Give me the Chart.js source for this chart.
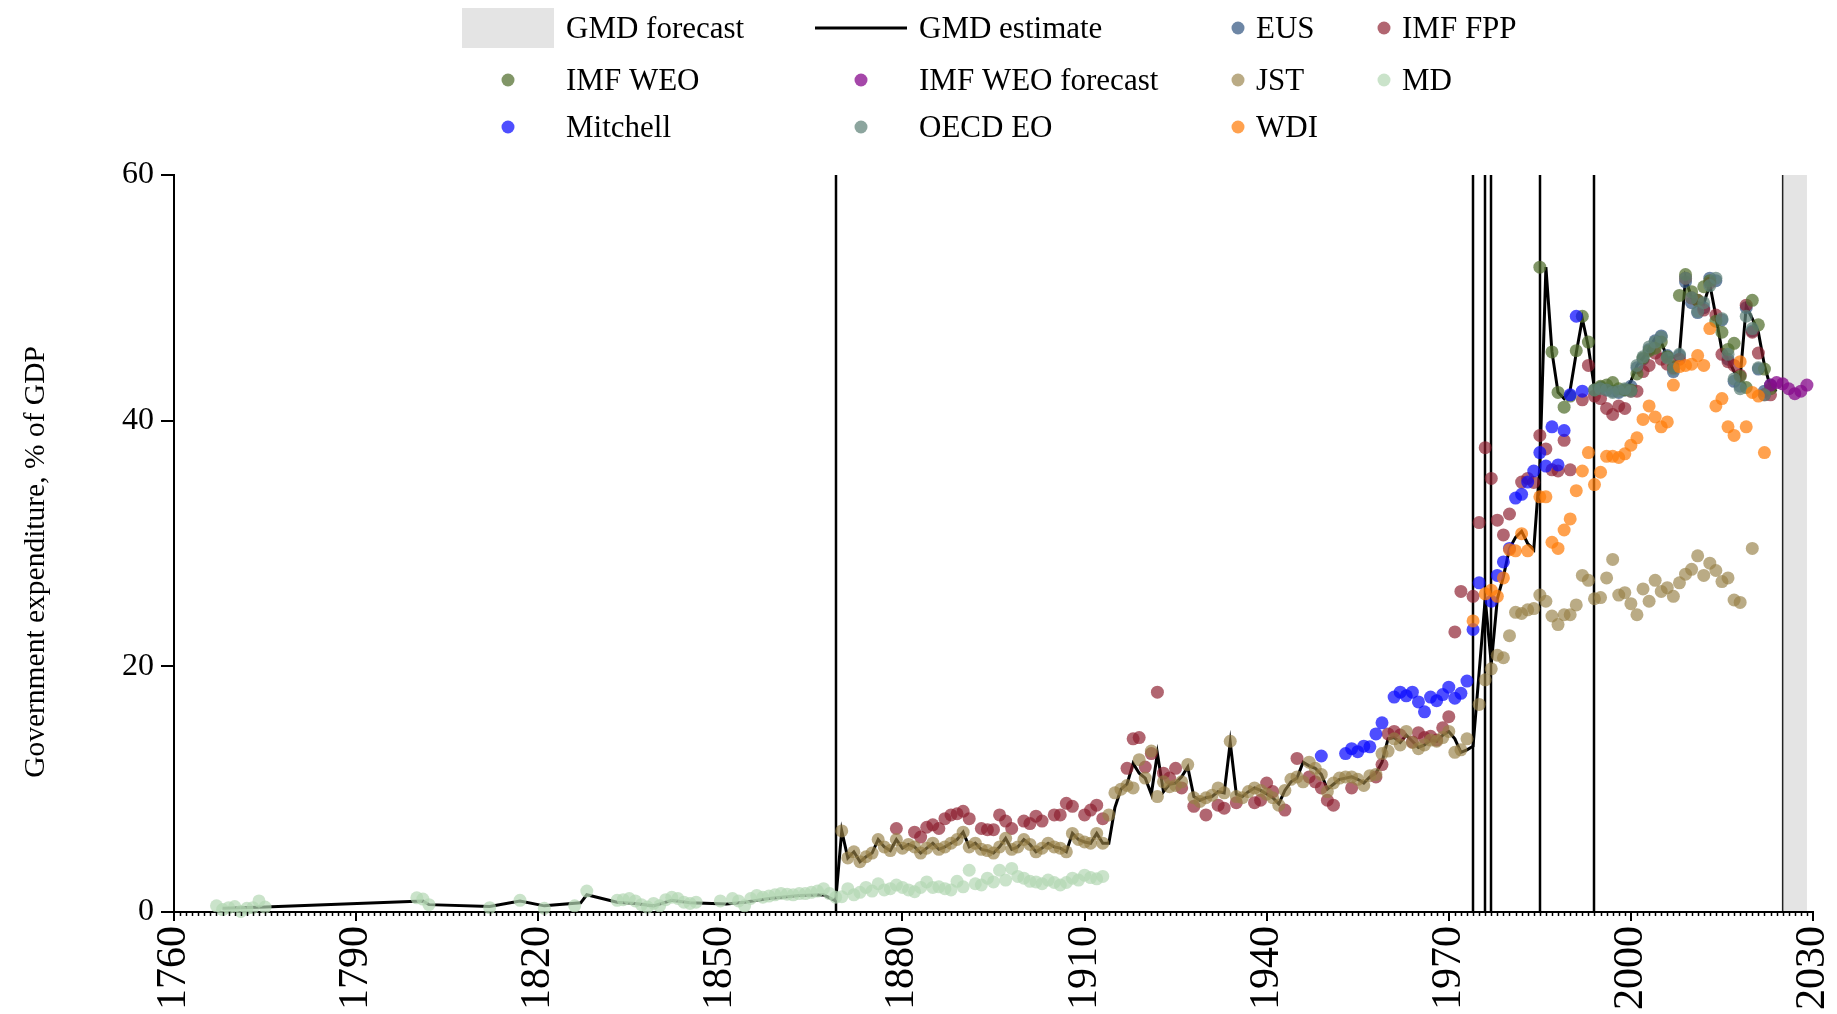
<!DOCTYPE html>
<html>
<head>
<meta charset="utf-8">
<title>Government expenditure, % of GDP</title>
<script src="https://cdn.jsdelivr.net/npm/chart.js@4.4.1/dist/chart.umd.min.js"></script>
<style>
    html, body { margin: 0; padding: 0; background: #fff; }
    #wrap { position: relative; width: 1837px; height: 1014px; }
</style>
</head>
<body>
<div id="wrap"><canvas id="chart" width="1837" height="1014"></canvas></div>
<script>
// 1. DATA (year, % of GDP)
const gmdEstimate = [
    [1768,0.3],[1775,0.4],[1801,0.9],[1802,0.6],[1812,0.45],[1817,0.9],[1821,0.5],[1827,0.75],[1828,1.4],
    [1833,0.8],[1836,0.7],[1839,0.5],[1842,0.95],[1845,0.75],[1851,0.65],[1854,0.8],[1858,1.1],[1863,1.35],
    [1867,1.4],[1869,0.9],
    [1870,6.6],[1871,4.4],[1872,4.9],[1873,4.1],[1874,4.5],[1875,4.8],[1876,5.9],[1877,5.3],[1878,5.0],[1879,5.9],
    [1880,5.2],[1881,5.5],[1882,5.3],[1883,4.8],[1884,5.2],[1885,5.6],[1886,5.1],[1887,5.3],[1888,5.6],[1889,5.9],
    [1890,6.5],[1891,5.3],[1892,5.6],[1893,5.1],[1894,5.0],[1895,4.8],[1896,5.3],[1897,6.0],[1898,5.1],[1899,5.3],
    [1900,5.9],[1901,5.5],[1902,4.9],[1903,5.2],[1904,5.6],[1905,5.3],[1906,5.2],[1907,4.9],[1908,6.4],[1909,5.9],
    [1910,5.7],[1911,5.6],[1912,6.4],[1913,5.6],[1914,5.6],[1915,8.5],[1916,10.0],[1917,10.4],[1918,12.1],[1919,11.3],
    [1920,10.9],[1921,9.6],[1922,12.9],[1923,9.8],[1924,10.4],[1925,10.5],[1926,11.0],[1927,11.8],[1928,9.4],[1929,9.1],
    [1930,9.3],[1931,9.4],[1932,9.8],[1933,9.7],[1934,13.8],[1935,9.6],[1936,9.4],[1937,9.8],[1938,10.1],[1939,9.9],
    [1940,9.6],[1941,9.3],[1942,8.8],[1943,9.9],[1944,10.6],[1945,10.9],[1946,12.2],[1947,11.9],[1948,11.7],[1949,11.2],
    [1950,10.0],[1951,10.4],[1952,10.8],[1953,10.9],[1954,11.0],[1955,10.8],[1956,10.5],[1957,11.0],[1958,11.3],[1959,12.2],
    [1960,14.1],[1961,14.2],[1962,13.8],[1963,14.4],[1964,13.9],[1965,13.4],[1966,13.6],[1967,14.0],[1968,13.9],[1969,14.4],
    [1970,14.7],[1971,14.1],[1972,13.0],[1973,13.2],[1974,13.5],[1975,19.5],[1976,25.5],[1977,20.2],[1978,25.5],[1979,27.3],
    [1980,29.6],[1981,30.5],[1982,31.0],[1983,30.0],[1984,29.5],[1985,36.3],[1986,52.5],[1987,45.6],[1988,42.3],[1989,41.8],
    [1990,42.5],[1991,45.5],[1992,48.3],[1993,46.0],[1994,42.6],[1995,42.6],[1996,42.7],[1997,42.6],[1998,42.5],[1999,42.5],
    [2000,43.2],[2001,44.5],[2002,45.1],[2003,45.9],[2004,46.7],[2005,46.4],[2006,45.1],[2007,45.2],[2008,45.4],[2009,51.6],
    [2010,50.0],[2011,49.6],[2012,49.5],[2013,51.1],[2014,48.5],[2015,45.7],[2016,45.0],[2017,44.0],[2018,43.5],[2019,49.3],
    [2020,48.3],[2021,47.2],[2022,44.5],[2023,42.7],[2024,42.4]
];

const eusPoints = [
    [1995,42.7],[1996,42.5],[1997,42.4],[1998,42.3],[1999,42.5],[2000,42.8],[2001,44.3],[2002,45.0],[2003,45.8],[2004,46.5],
    [2005,46.9],[2006,45.3],[2007,44.0],[2008,45.3],[2009,51.3],[2010,49.6],[2011,48.8],[2012,49.2],[2013,51.6],[2014,51.4],
    [2015,48.2],[2016,45.0],[2017,43.2],[2018,42.8],[2019,49.2],[2020,47.3],[2021,44.2],[2022,42.4],[2023,42.9]
];

const imfFppPoints = [
    [1879,6.8],[1882,6.5],[1883,6.1],[1884,6.9],[1885,7.1],[1886,6.8],[1887,7.6],[1888,7.9],[1889,8.0],[1890,8.2],
    [1891,7.6],[1893,6.8],[1894,6.7],[1895,6.7],[1896,7.9],[1897,7.4],[1898,6.8],[1900,7.4],[1901,7.2],[1902,7.8],
    [1903,7.4],[1905,7.9],[1906,7.9],[1907,8.85],[1908,8.6],[1910,7.9],[1911,8.3],[1912,8.7],[1913,7.6],
    [1917,11.7],[1918,14.1],[1919,14.2],[1920,11.8],[1921,12.9],[1922,17.9],[1923,11.3],[1924,10.9],[1925,11.7],[1926,10.1],
    [1928,8.6],[1930,7.9],[1932,8.7],[1933,8.45],[1935,8.9],[1938,8.9],[1939,9.1],[1940,10.5],[1941,9.8],[1943,8.3],
    [1945,12.5],[1947,11.0],[1948,10.6],[1949,10.1],[1950,9.1],[1951,8.7],[1954,10.1],[1958,11.0],[1959,12.0],[1960,14.5],
    [1961,14.7],[1962,14.4],[1964,13.85],[1965,14.6],[1966,14.2],[1967,14.3],[1968,14.0],[1969,15.0],[1970,15.9],[1971,22.8],
    [1972,26.1],[1974,25.7],[1975,31.7],[1976,37.8],[1977,35.3],[1978,31.9],[1979,30.7],[1980,32.4],[1982,35.0],[1983,35.3],
    [1984,34.97],[1985,38.8],[1986,37.7],[1987,36.0],[1988,35.9],[1989,38.4],[1990,36.0],[1992,41.7],[1993,44.5],[1994,42.0],
    [1995,41.8],[1996,41.0],[1997,40.5],[1998,41.2],[1999,41.0],[2000,42.4],[2001,42.4],[2002,44.0],[2003,44.5],[2004,45.5],
    [2005,45.0],[2006,44.6],[2007,44.3],[2008,45.0],[2009,51.6],[2010,50.0],[2011,49.8],[2012,49.0],[2013,51.2],[2014,48.6],
    [2015,45.4],[2016,44.8],[2017,44.5],[2018,43.7],[2019,49.4],[2020,47.2],[2021,45.5],[2022,42.1],[2023,42.1]
];

const imfWeoPoints = [
    [1985,52.5],[1987,45.6],[1988,42.3],[1989,41.1],[1990,42.0],[1991,45.7],[1992,48.5],[1993,46.4],[1994,42.5],[1995,42.8],
    [1996,42.9],[1997,43.1],[1998,42.6],[1999,42.5],[2000,42.5],[2001,43.8],[2002,45.1],[2003,45.7],[2004,45.9],[2005,46.4],
    [2006,45.2],[2007,44.4],[2008,50.2],[2009,51.9],[2010,50.5],[2011,49.8],[2012,50.9],[2013,51.4],[2014,48.1],[2015,47.2],
    [2016,45.8],[2017,46.3],[2018,43.6],[2019,42.7],[2020,49.8],[2021,47.8],[2022,44.2],[2023,42.6]
];

const imfWeoForecastPoints = [
    [2023,42.9],[2024,43.1],[2025,43.0],[2026,42.6],[2027,42.2],[2028,42.4],[2029,42.9]
];

const jstPoints = [
    [1870,6.6],[1871,4.4],[1872,4.9],[1873,4.1],[1874,4.5],[1875,4.8],[1876,5.9],[1877,5.3],[1878,5.0],[1879,5.9],
    [1880,5.2],[1881,5.5],[1882,5.3],[1883,4.8],[1884,5.2],[1885,5.6],[1886,5.1],[1887,5.3],[1888,5.6],[1889,5.9],
    [1890,6.5],[1891,5.3],[1892,5.6],[1893,5.1],[1894,5.0],[1895,4.8],[1896,5.3],[1897,6.0],[1898,5.1],[1899,5.3],
    [1900,5.9],[1901,5.5],[1902,4.9],[1903,5.2],[1904,5.6],[1905,5.3],[1906,5.2],[1907,4.9],[1908,6.4],[1909,5.9],
    [1910,5.7],[1911,5.6],[1912,6.4],[1913,5.6],[1914,7.9],[1915,9.7],[1916,10.0],[1917,10.3],[1918,10.1],[1919,12.4],
    [1920,10.9],[1921,13.1],[1922,9.4],[1923,10.6],[1924,10.2],[1925,10.3],[1926,10.6],[1927,12.0],[1928,9.3],[1929,9.0],
    [1930,9.3],[1931,9.5],[1932,10.1],[1933,9.7],[1934,13.9],[1935,9.4],[1936,9.3],[1937,9.8],[1938,10.1],[1939,9.9],
    [1940,9.6],[1941,9.3],[1942,8.7],[1943,9.9],[1944,10.8],[1945,11.0],[1946,10.6],[1947,12.2],[1948,11.7],[1949,11.2],
    [1950,9.8],[1951,10.5],[1952,10.9],[1953,11.0],[1954,11.0],[1955,10.8],[1956,10.3],[1957,11.1],[1958,11.2],[1959,12.9],
    [1960,13.1],[1961,14.1],[1962,13.6],[1963,14.7],[1964,13.8],[1965,13.3],[1966,13.6],[1967,14.0],[1968,13.9],[1969,14.2],
    [1970,14.7],[1971,13.0],[1972,13.2],[1973,14.1],[1975,16.9],[1976,18.9],[1977,19.8],[1978,20.9],[1979,20.7],
    [1980,22.5],[1981,24.4],[1982,24.3],[1983,24.6],[1984,24.7],[1985,25.8],[1986,25.3],[1987,24.1],[1988,23.4],[1989,24.2],
    [1990,24.2],[1991,25.0],[1992,27.4],[1993,27.0],[1994,25.5],[1995,25.6],[1996,27.2],[1997,28.7],[1998,25.8],[1999,26.0],
    [2000,25.1],[2001,24.2],[2002,26.3],[2003,25.3],[2004,27.0],[2005,26.1],[2006,26.4],[2007,25.7],[2008,26.8],[2009,27.5],
    [2010,27.9],[2011,29.0],[2012,27.4],[2013,28.4],[2014,27.8],[2015,26.9],[2016,27.2],[2017,25.4],[2018,25.2],[2020,29.6]
];

const mdPoints = [
    [1767,0.5],[1768,0.2],[1769,0.35],[1770,0.45],[1771,0.05],[1772,0.3],[1773,0.35],[1774,0.9],[1775,0.4],
    [1800,1.15],[1801,1.05],[1802,0.6],[1812,0.35],[1817,0.95],[1821,0.3],[1826,0.5],[1828,1.7],
    [1833,0.95],[1834,1.0],[1835,1.1],[1836,0.9],[1837,0.6],[1838,0.4],[1839,0.7],[1840,0.5],[1841,1.0],[1842,1.2],
    [1843,1.1],[1844,0.8],[1845,0.7],[1846,0.8],[1850,0.9],[1852,1.1],[1853,0.9],[1854,0.5],[1855,1.1],[1856,1.35],
    [1857,1.2],[1858,1.3],[1859,1.4],[1860,1.5],[1861,1.45],[1862,1.4],[1863,1.5],[1864,1.5],[1865,1.6],[1866,1.7],
    [1867,1.9],[1868,1.5],[1869,1.2],
    [1870,1.25],[1871,1.9],[1872,1.4],[1873,1.6],[1874,2.0],[1875,1.7],[1876,2.3],[1877,1.8],[1878,1.9],[1879,2.2],
    [1880,2.0],[1881,1.8],[1882,1.65],[1883,2.0],[1884,2.45],[1885,2.0],[1886,2.05],[1887,1.9],[1888,1.8],[1889,2.5],
    [1890,2.05],[1891,3.4],[1892,2.3],[1893,2.2],[1894,2.75],[1895,2.45],[1896,3.4],[1897,2.6],[1898,3.55],[1899,2.9],
    [1900,2.75],[1901,2.5],[1902,2.45],[1903,2.3],[1904,2.6],[1905,2.4],[1906,2.2],[1907,2.4],[1908,2.75],[1909,2.6],
    [1910,3.0],[1911,2.8],[1912,2.7],[1913,2.9]
];

const mitchellPoints = [
    [1949,12.7],[1953,12.9],[1954,13.3],[1955,13.05],[1956,13.5],[1957,13.45],[1958,14.5],[1959,15.4],[1961,17.5],[1962,17.9],
    [1963,17.6],[1964,17.9],[1965,17.1],[1966,16.3],[1967,17.5],[1968,17.2],[1969,17.7],[1970,18.3],[1971,17.4],[1972,17.8],
    [1973,18.8],[1974,23.0],[1975,26.8],[1977,25.3],[1978,27.4],[1979,28.5],[1980,29.6],[1981,33.7],[1982,34.0],[1983,35.0],
    [1984,35.9],[1985,37.4],[1986,36.3],[1987,39.5],[1988,36.4],[1989,39.2],[1990,42.1],[1991,48.5],[1992,42.4]
];

const oecdPoints = [
    [1994,42.5],[1995,42.6],[1996,42.5],[1997,42.3],[1998,42.4],[1999,42.6],[2000,42.4],[2001,44.5],[2002,45.2],[2003,46.0],
    [2004,46.4],[2005,46.8],[2006,45.1],[2007,44.2],[2008,45.4],[2009,51.6],[2010,50.0],[2011,48.9],[2012,49.6],[2013,51.0],
    [2014,51.6],[2015,48.3],[2016,45.4],[2017,43.4],[2018,42.6],[2019,48.5],[2020,47.5],[2021,44.3],[2022,42.1]
];

const wdiPoints = [
    [1974,23.7],[1976,25.9],[1977,26.2],[1978,25.7],[1979,27.2],[1980,29.5],[1981,29.4],[1982,30.8],[1983,29.4],[1985,33.8],
    [1986,33.8],[1987,30.1],[1988,29.6],[1989,31.1],[1990,32.0],[1991,34.3],[1992,35.9],[1993,37.4],[1994,34.8],[1995,35.8],
    [1996,37.1],[1997,37.1],[1998,37.0],[1999,37.3],[2000,38.0],[2001,38.6],[2002,40.1],[2003,41.2],[2004,40.3],[2005,39.5],
    [2006,39.9],[2007,42.9],[2008,44.4],[2009,44.5],[2010,44.6],[2011,45.3],[2012,44.5],[2013,47.5],[2014,41.2],[2015,41.8],
    [2016,39.5],[2017,38.8],[2018,44.8],[2019,39.5],[2020,42.3],[2021,42.0],[2022,37.4]
];

const breakYears = [1869, 1974, 1976, 1977, 1985, 1994];
const forecastStart = 2025;
const forecastEnd = 2029;
const xTickYears = [1760, 1790, 1820, 1850, 1880, 1910, 1940, 1970, 2000, 2030];
const yTickValues = [0, 20, 40, 60];
const yTitle = 'Government expenditure, % of GDP';

// 2. STYLE
const FONT = '"Liberation Serif", "Times New Roman", Times, serif';
Chart.defaults.font.family = FONT;
Chart.defaults.color = '#000';

const toXY = pts => pts.map(([x, y]) => ({ x, y }));

function scatterSet(label, points, color, order) {
    return {
        type: 'scatter',
        label: label,
        data: toXY(points),
        backgroundColor: color,
        borderColor: color,
        borderWidth: 0,
        pointRadius: 6.5,
        pointHoverRadius: 6.5,
        order: order,
        clip: false
    };
}

const datasets = [
    {
        type: 'line',
        label: 'GMD estimate',
        data: toXY(gmdEstimate),
        borderColor: '#000',
        borderWidth: 3,
        pointRadius: 0,
        tension: 0,
        order: 100
    },
    scatterSet('EUS', eusPoints, 'rgba(52, 88, 130, 0.72)', 9),
    scatterSet('IMF FPP', imfFppPoints, 'rgba(140, 30, 45, 0.68)', 8),
    scatterSet('IMF WEO', imfWeoPoints, 'rgba(80, 110, 45, 0.72)', 7),
    scatterSet('IMF WEO forecast', imfWeoForecastPoints, 'rgba(135, 10, 140, 0.75)', 6),
    scatterSet('JST', jstPoints, 'rgba(150, 128, 70, 0.66)', 5),
    scatterSet('MD', mdPoints, 'rgba(180, 215, 180, 0.7)', 4),
    scatterSet('Mitchell', mitchellPoints, 'rgba(10, 10, 255, 0.72)', 3),
    scatterSet('OECD EO', oecdPoints, 'rgba(95, 130, 120, 0.72)', 2),
    scatterSet('WDI', wdiPoints, 'rgba(255, 125, 10, 0.72)', 1)
];

// 3. PLUGINS: forecast band, break lines, minor ticks, axis title, legend
const decorPlugin = {
    id: 'decor',
    beforeDatasetsDraw(chart) {
        const { ctx, scales: { x, y } } = chart;
        const top = y.getPixelForValue(60);
        const bottom = y.getPixelForValue(0) - 1;
        ctx.save();
        const x0 = x.getPixelForValue(forecastStart);
        const x1 = x.getPixelForValue(forecastEnd);
        ctx.fillStyle = '#e4e4e4';
        ctx.fillRect(x0, top, x1 - x0, bottom - top);

        ctx.strokeStyle = '#000';
        ctx.lineWidth = 2.5;
        breakYears.forEach(yr => {
            const px = Math.round(x.getPixelForValue(yr));
            ctx.beginPath();
            ctx.moveTo(px, top);
            ctx.lineTo(px, bottom);
            ctx.stroke();
        });
        ctx.strokeStyle = '#222';
        ctx.lineWidth = 1.5;
        ctx.beginPath();
        ctx.moveTo(x0, top);
        ctx.lineTo(x0, bottom);
        ctx.stroke();
        ctx.restore();
    },
    afterDraw(chart) {
        const { ctx, scales: { x, y } } = chart;
        const base = y.getPixelForValue(0);
        ctx.save();
        ctx.strokeStyle = '#000';
        ctx.lineWidth = 1.5;
        for (let yr = x.min + 1; yr < x.max; yr++) {
            if (xTickYears.includes(yr)) continue;
            const px = Math.round(x.getPixelForValue(yr)) + 0.5;
            ctx.beginPath();
            ctx.moveTo(px, base);
            ctx.lineTo(px, base + 4);
            ctx.stroke();
        }
        // y axis title, centred a little below the middle of the axis like the reference
        ctx.translate(36, 562);
        ctx.rotate(-Math.PI / 2);
        ctx.font = `29.5px ${FONT}`;
        ctx.fillStyle = '#000';
        ctx.textAlign = 'center';
        ctx.textBaseline = 'middle';
        ctx.fillText(yTitle, 0, 0);
        ctx.restore();
    }
};

const legendCols = [
    { key: 508, text: 566 },
    { key: 861, text: 919 },
    { key: 1238, text: 1256 },
    { key: 1384, text: 1402 }
];
const legendRows = [28, 80, 127];
const legendOrder = [
    'GMD forecast', 'GMD estimate', 'EUS', 'IMF FPP',
    'IMF WEO', 'IMF WEO forecast', 'JST', 'MD',
    'Mitchell', 'OECD EO', 'WDI'
];

const legendPlugin = {
    id: 'gridLegend',
    afterDraw(chart) {
        const ctx = chart.ctx;
        ctx.save();
        ctx.font = `31px ${FONT}`;
        ctx.textBaseline = 'middle';
        legendOrder.forEach((label, i) => {
            const col = legendCols[i % 4];
            const cy = legendRows[Math.floor(i / 4)];
            if (label === 'GMD forecast') {
                ctx.fillStyle = '#e4e4e4';
                ctx.fillRect(col.key - 46, cy - 20, 92, 40);
            } else if (label === 'GMD estimate') {
                ctx.strokeStyle = '#000';
                ctx.lineWidth = 3;
                ctx.beginPath();
                ctx.moveTo(col.key - 46, cy);
                ctx.lineTo(col.key + 46, cy);
                ctx.stroke();
            } else {
                const ds = chart.data.datasets.find(d => d.label === label);
                ctx.fillStyle = ds.backgroundColor;
                ctx.beginPath();
                ctx.arc(col.key, cy, 6.5, 0, Math.PI * 2);
                ctx.fill();
            }
            ctx.fillStyle = '#000';
            ctx.fillText(label, col.text, cy + 2);
        });
        ctx.restore();
    }
};

// 4. CHART
const ctx = document.getElementById('chart').getContext('2d');
const chart = new Chart(ctx, {
    data: { datasets: datasets },
    options: {
        responsive: false,
        animation: false,
        devicePixelRatio: 1,
        layout: { padding: { top: 175, right: 24, bottom: 0, left: 0 } },
        plugins: {
            legend: { display: false },
            tooltip: { enabled: false }
        },
        scales: {
            x: {
                type: 'linear',
                min: 1760,
                max: 2030,
                afterBuildTicks: s => { s.ticks = xTickYears.map(v => ({ value: v })); },
                afterFit: s => {
                    s.height = 102;
                    s.paddingLeft = 0;
                    s.paddingRight = 0;
                },
                ticks: {
                    font: { size: 42 },
                    color: '#000',
                    minRotation: 90,
                    maxRotation: 90,
                    padding: 5,
                    autoSkip: false,
                    callback: v => String(v)
                },
                grid: { display: true, drawOnChartArea: false, drawTicks: true, tickLength: 9, color: '#000', lineWidth: 2 },
                border: { display: true, color: '#000', width: 2 }
            },
            y: {
                type: 'linear',
                min: 0,
                max: 60,
                afterBuildTicks: s => { s.ticks = yTickValues.map(v => ({ value: v })); },
                afterFit: s => {
                    s.width = 174;
                    s.paddingTop = 0;
                    s.paddingBottom = 0;
                },
                ticks: {
                    font: { size: 32 },
                    color: '#000',
                    padding: 7,
                    callback: v => String(v)
                },
                grid: { display: true, drawOnChartArea: false, drawTicks: true, tickLength: 13, color: '#000', lineWidth: 2 },
                border: { display: true, color: '#000', width: 2 }
            }
        }
    },
    plugins: [decorPlugin, legendPlugin]
});
</script>
</body>
</html>
